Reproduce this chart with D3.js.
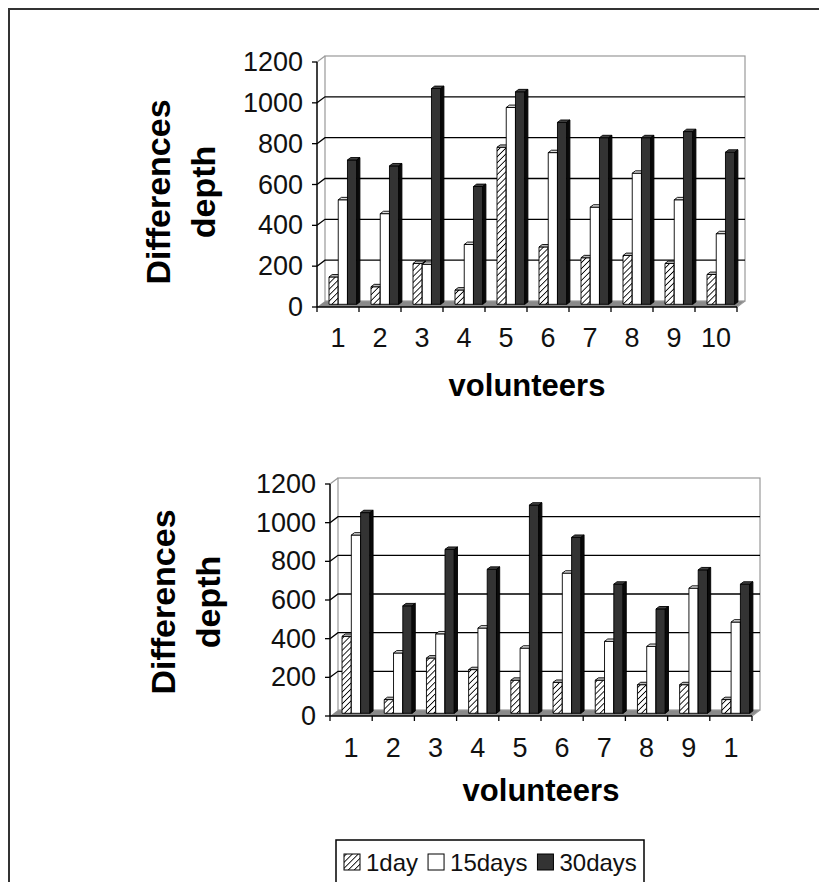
<!DOCTYPE html>
<html>
<head>
<meta charset="utf-8">
<script src="https://cdn.jsdelivr.net/npm/d3@7"></script>
<style>
  body { margin: 0; background: #fff; }
  svg { display: block; font-family: Arial, "Liberation Sans", sans-serif; }
</style>
</head>
<body>
<svg id="chart" width="819" height="882"></svg>
<script>
// values
const series = ["1day", "15days", "30days"];
const ticksY = [0, 200, 400, 600, 800, 1000, 1200];

const labelsTop = ["1", "2", "3", "4", "5", "6", "7", "8", "9", "10"];
const day1Top = [134, 86, 200, 70, 769, 281, 228, 239, 200, 146];
const days15Top = [512, 444, 196, 293, 964, 743, 476, 642, 512, 346];
const days30Top = [707, 678, 1057, 577, 1041, 891, 816, 816, 846, 745];

const labelsBottom = ["1", "2", "3", "4", "5", "6", "7", "8", "9", "1"];
const day1Bottom = [398, 71, 286, 226, 171, 160, 171, 148, 148, 71];
const days15Bottom = [922, 312, 411, 441, 337, 725, 372, 346, 647, 472];
const days30Bottom = [1038, 556, 848, 745, 1077, 910, 668, 540, 742, 668];

const svg = d3.select("#chart");

// hatch for the 1day bars
const defs = svg.append("defs");
const pat = defs.append("pattern")
  .attr("id", "hatch")
  .attr("patternUnits", "userSpaceOnUse")
  .attr("width", 4.2).attr("height", 4.2)
  .attr("patternTransform", "rotate(45)");
pat.append("rect").attr("width", 4.2).attr("height", 4.2).attr("fill", "#fff");
pat.append("line").attr("x1", 0).attr("y1", 0).attr("x2", 0).attr("y2", 4.2)
  .attr("stroke", "#000").attr("stroke-width", 1.7);

const faces = {
  "1day":   { front: "url(#hatch)", top: "#bbb", side: "#777" },
  "15days": { front: "#fff", top: "#ddd", side: "#aaa" },
  "30days": { front: "#333", top: "#444", side: "#0a0a0a" }
};

// outer frame
svg.append("rect")
  .attr("x", 9).attr("y", 9).attr("width", 900).attr("height", 1000)
  .attr("fill", "none").attr("stroke", "#333").attr("stroke-width", 2);

function drawChart(cfg) {
  const g = svg.append("g");
  const dx = 8, dy = -6;           // depth of the 3d box
  const f1 = 0.45, f2 = 0.85;      // where the bars sit inside the depth

  const y = d3.scaleLinear().domain([0, 1200]).range([cfg.y0, cfg.yTop]);
  const x = d3.scaleBand().domain(d3.range(cfg.labels.length)).range([cfg.x0, cfg.xEnd]);
  const xs = d3.scaleBand().domain(series).range([x.bandwidth() * 0.2, x.bandwidth() * 0.86]);

  // floor
  g.append("path")
    .attr("d", `M${cfg.x0},${cfg.y0}L${cfg.xEnd},${cfg.y0}L${cfg.xEnd + dx},${cfg.y0 + dy}L${cfg.x0 + dx},${cfg.y0 + dy}Z`)
    .attr("fill", "#8a8a8a");

  // back wall
  g.append("rect")
    .attr("x", cfg.x0 + dx).attr("y", cfg.yTop + dy)
    .attr("width", cfg.xEnd - cfg.x0).attr("height", cfg.y0 - cfg.yTop)
    .attr("fill", "none").attr("stroke", "#999").attr("stroke-width", 1.2);

  // gridlines on side wall + back wall
  ticksY.filter(t => t > 0 && t < 1200).forEach(t => {
    g.append("path")
      .attr("d", `M${cfg.x0},${y(t)}L${cfg.x0 + dx},${y(t) + dy}L${cfg.xEnd + dx},${y(t) + dy}`)
      .attr("fill", "none").attr("stroke", "#000").attr("stroke-width", 1.3);
  });
  g.append("line")
    .attr("x1", cfg.x0).attr("y1", y(1200)).attr("x2", cfg.x0 + dx).attr("y2", y(1200) + dy)
    .attr("stroke", "#999").attr("stroke-width", 1.2);
  g.append("line")
    .attr("x1", cfg.xEnd).attr("y1", cfg.y0).attr("x2", cfg.xEnd + dx).attr("y2", cfg.y0 + dy)
    .attr("stroke", "#999").attr("stroke-width", 1.2);

  // bars
  cfg.labels.forEach((lab, i) => {
    series.forEach((s, k) => {
      const v = cfg.values[k][i];
      const bx = x(i) + xs(s), w = xs.bandwidth();
      const yt = y(v), yb = y(0);
      const ax = dx * f1, ay = dy * f1, bxo = dx * f2, byo = dy * f2;
      const c = faces[s];
      const bar = g.append("g").attr("stroke", "#000").attr("stroke-width", 0.9).attr("stroke-linejoin", "round");
      bar.append("rect")
        .attr("x", bx + ax).attr("y", yt + ay).attr("width", w).attr("height", yb - yt)
        .attr("fill", c.front);
      bar.append("path")
        .attr("d", `M${bx + ax},${yt + ay}L${bx + w + ax},${yt + ay}L${bx + w + bxo},${yt + byo}L${bx + bxo},${yt + byo}Z`)
        .attr("fill", c.top);
      bar.append("path")
        .attr("d", `M${bx + w + ax},${yt + ay}L${bx + w + bxo},${yt + byo}L${bx + w + bxo},${yb + byo}L${bx + w + ax},${yb + ay}Z`)
        .attr("fill", c.side);
    });
  });

  // front axes
  g.append("line")
    .attr("x1", cfg.x0).attr("y1", y(1200)).attr("x2", cfg.x0).attr("y2", cfg.y0)
    .attr("stroke", "#000").attr("stroke-width", 1.5);
  g.append("line")
    .attr("x1", cfg.x0).attr("y1", cfg.y0).attr("x2", cfg.xEnd).attr("y2", cfg.y0)
    .attr("stroke", "#000").attr("stroke-width", 1.5);
  ticksY.forEach(t => {
    g.append("line")
      .attr("x1", cfg.x0 - 5).attr("y1", y(t)).attr("x2", cfg.x0).attr("y2", y(t))
      .attr("stroke", "#000").attr("stroke-width", 1.3);
    g.append("text")
      .attr("x", cfg.x0 - 14).attr("y", y(t))
      .attr("text-anchor", "end").attr("dominant-baseline", "central")
      .attr("font-size", 27).attr("fill", "#111")
      .text(t);
  });
  d3.range(cfg.labels.length + 1).forEach(i => {
    const tx = i < cfg.labels.length ? x(i) : cfg.xEnd;
    g.append("line")
      .attr("x1", tx).attr("y1", cfg.y0).attr("x2", tx).attr("y2", cfg.y0 + 5)
      .attr("stroke", "#000").attr("stroke-width", 1.3);
  });
  cfg.labels.forEach((lab, i) => {
    g.append("text")
      .attr("x", x(i) + x.bandwidth() / 2).attr("y", cfg.y0 + cfg.catDy)
      .attr("text-anchor", "middle").attr("dominant-baseline", "central")
      .attr("font-size", 27).attr("fill", "#111")
      .text(lab);
  });

  // titles
  g.append("text")
    .attr("x", (cfg.x0 + cfg.xEnd) / 2).attr("y", cfg.y0 + cfg.titleDy)
    .attr("text-anchor", "middle").attr("dominant-baseline", "central")
    .attr("font-size", 31).attr("font-weight", "bold")
    .text("volunteers");
  [["Differences", cfg.ytX1], ["depth", cfg.ytX2]].forEach(([txt, tx]) => {
    g.append("text")
      .attr("transform", `translate(${tx},${cfg.ytY}) rotate(-90)`)
      .attr("text-anchor", "middle").attr("dominant-baseline", "central")
      .attr("font-size", 34).attr("font-weight", "bold")
      .text(txt);
  });
}

drawChart({
  x0: 317, xEnd: 737, y0: 307, yTop: 62,
  labels: labelsTop, values: [day1Top, days15Top, days30Top],
  catDy: 31, titleDy: 78, ytX1: 158, ytX2: 203, ytY: 192
});
drawChart({
  x0: 330, xEnd: 752, y0: 716, yTop: 484,
  labels: labelsBottom, values: [day1Bottom, days15Bottom, days30Bottom],
  catDy: 32, titleDy: 74, ytX1: 163, ytX2: 208, ytY: 602
});

// legend
const leg = svg.append("g");
leg.append("rect")
  .attr("x", 336).attr("y", 840).attr("width", 308).attr("height", 60)
  .attr("fill", "#fff").attr("stroke", "#000").attr("stroke-width", 1.5);
let lx = 344;
series.forEach(s => {
  leg.append("rect")
    .attr("x", lx).attr("y", 854).attr("width", 16).attr("height", 16)
    .attr("fill", faces[s].front).attr("stroke", "#000").attr("stroke-width", 1);
  const t = leg.append("text")
    .attr("x", lx + 22).attr("y", 862)
    .attr("dominant-baseline", "central")
    .attr("font-size", 24).attr("fill", "#111")
    .text(s);
  lx += 22 + t.node().getComputedTextLength() + 10;
});
</script>
</body>
</html>
